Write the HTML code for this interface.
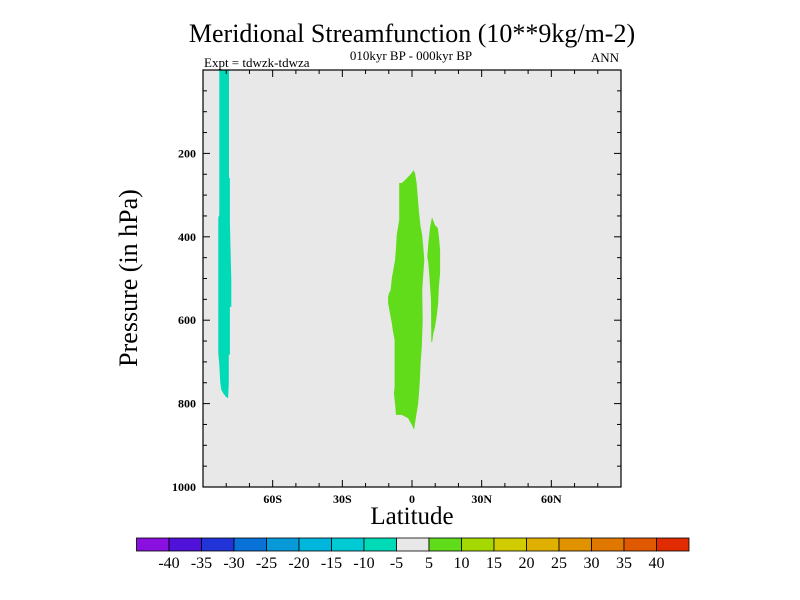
<!DOCTYPE html>
<html><head><meta charset="utf-8"><style>
body{margin:0;background:#fff;}
svg{display:block;font-family:"Liberation Serif",serif;}
</style></head><body>
<svg id="chart" width="800" height="600">
<text x="412" y="42" font-size="26" text-anchor="middle">Meridional Streamfunction (10**9kg/m-2)</text>
<text x="411" y="60" font-size="13" text-anchor="middle">010kyr BP - 000kyr BP</text>
<text x="204" y="67" font-size="13">Expt = tdwzk-tdwza</text>
<text x="619" y="62" font-size="13" text-anchor="end">ANN</text>
<rect x="203" y="70" width="418" height="417" fill="#e8e8e8"/>
<g id="shapes"></g>
<g id="ticks"></g>
<rect x="203" y="70" width="418" height="417" fill="none" stroke="#000" stroke-width="1.2"/>
<text transform="translate(137,278) rotate(-90)" font-size="26" text-anchor="middle">Pressure (in hPa)</text>
<text x="412" y="524" font-size="25" text-anchor="middle">Latitude</text>
<g id="colorbar"></g>
</svg>
<script>
const NS="http://www.w3.org/2000/svg";
const latTicks=[-60,-30,0,30,60];
const latTickLabels=["60S","30S","0","30N","60N"];
const presTicks=[200,400,600,800,1000];
const cbLevels=[-40,-35,-30,-25,-20,-15,-10,-5,5,10,15,20,25,30,35,40];
const cbColors=["#8a10e0","#5012d8","#2234d8","#0872d8","#089ad8","#00b6dc","#00cad4","#00dab6","#e8e8e8","#60dc1a","#a4d800","#d0cc00","#e0b000","#e09200","#e07800","#e05800","#e02c00"];
const negLat=[-83.0,-78.8,-78.8,-78.4,-78.4,-77.8,-77.8,-78.4,-78.4,-78.9,-78.9,-79.2,-80.1,-81.3,-82.1,-82.6,-83.0,-83.4,-83.4,-83.0];
const negPres=[0,0,259,259,367,504,568,568,683,683,751,787,784,775,767,748,707,679,353,348];
const posMainLat=[-5.5,-5.5,-6.6,-6.9,-7.3,-8.2,-8.6,-9.2,-9.9,-10.3,-10.3,-9.5,-8.7,-8.2,-7.5,-7.5,-7.8,-7.3,-6.9,-4.4,-1.7,-0.1,0.9,1.3,2.0,2.6,3.0,3.4,3.7,4.2,4.6,4.4,4.9,5.3,4.9,4.4,3.7,3.0,2.6,2.0,1.3,0.6,-0.1,-3.0,-4.4];
const posMainPres=[271,360,396,427,456,484,496,528,535,544,559,583,607,628,647,760,775,799,827,827,835,851,863,847,823,803,775,743,703,664,600,528,487,456,427,396,376,341,312,271,247,240,247,264,271];
const posLobeLat=[8.6,9.9,11.1,11.6,12.1,12.1,11.6,11.3,10.6,9.9,9.2,8.7,8.3,8.2,7.5,7.0,6.6,7.0,7.8];
const posLobePres=[353,372,379,400,432,487,520,559,592,616,631,652,652,552,496,463,448,415,376];
const X=l=>203+(l+90)*418/180;
const Y=p=>70+p*417/1000;
function poly(lats,ps,color,name){
  const e=document.createElementNS(NS,"polygon");
  e.setAttribute("points",lats.map((l,i)=>X(l).toFixed(1)+","+Y(ps[i]).toFixed(1)).join(" "));
  e.setAttribute("fill",color);
  
  
  document.getElementById("shapes").appendChild(e);
}
poly(negLat,negPres,cbColors[7],"contour-negative-southern");
poly(posMainLat,posMainPres,cbColors[9],"contour-positive-equatorial");
poly(posLobeLat,posLobePres,cbColors[9],"contour-positive-lobe");
const tg=document.getElementById("ticks");
function line(x1,y1,x2,y2,name){
  const e=document.createElementNS(NS,"line");
  e.setAttribute("x1",x1);e.setAttribute("y1",y1);e.setAttribute("x2",x2);e.setAttribute("y2",y2);
  e.setAttribute("stroke","#000");e.setAttribute("stroke-width","1");
  
  
  tg.appendChild(e);
}
function txt(x,y,s,size,anchor,name,parent,weight){
  const e=document.createElementNS(NS,"text");
  e.setAttribute("x",x);e.setAttribute("y",y);e.setAttribute("font-size",size);e.setAttribute("text-anchor",anchor);
  if(weight)e.setAttribute("font-weight",weight);
  e.textContent=s;
  
  
  parent.appendChild(e);
}
for(let l=-80;l<=80;l+=10){
  const len=(l%30===0)?7:4;const x=X(l);
  line(x,487,x,487-len,"x-tick");
  line(x,70,x,70+len,"x-tick-top");
}
latTicks.forEach((l,i)=>txt(X(l),503,latTickLabels[i],12,"middle","x-tick-label",tg,"bold"));
for(let p=50;p<1000;p+=50){
  const len=(p%200===0)?7:4;const y=Y(p);
  line(203,y,203+len,y,"y-tick");
  line(621,y,621-len,y,"y-tick-right");
}
presTicks.forEach(p=>txt(196,Y(p)+4,String(p),12,"end","y-tick-label",tg,"bold"));
const cb=document.getElementById("colorbar");
const cbX0=136.5,cbW=(689-136.5)/cbColors.length;
cbColors.forEach((c,i)=>{
  const r=document.createElementNS(NS,"rect");
  r.setAttribute("x",cbX0+i*cbW);r.setAttribute("y",538);r.setAttribute("width",cbW);r.setAttribute("height",13);
  r.setAttribute("fill",c);r.setAttribute("stroke","#000");r.setAttribute("stroke-width","0.8");
  
  
  cb.appendChild(r);
});
cbLevels.forEach((v,i)=>txt(cbX0+(i+1)*cbW,568,String(v),16,"middle","colorbar-label",cb));
</script>
</body></html>
